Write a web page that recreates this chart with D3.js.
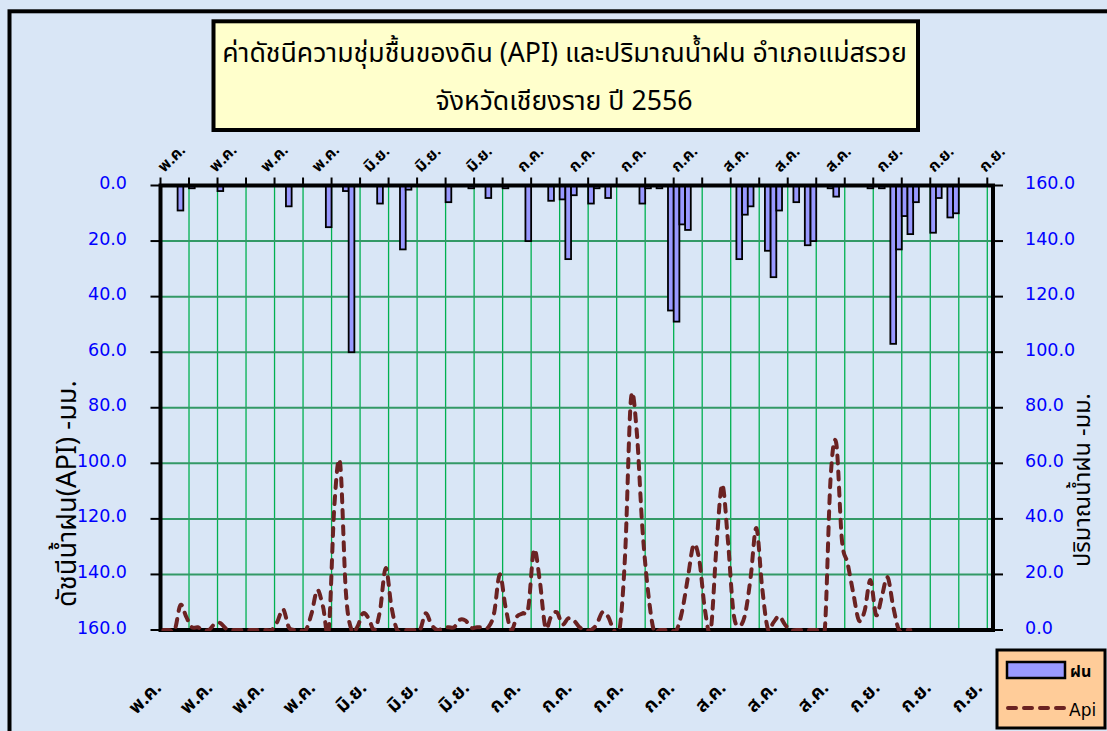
<!DOCTYPE html>
<html><head><meta charset="utf-8">
<script src="https://cdn.jsdelivr.net/npm/d3@7"></script>
<style>body{margin:0;background:#fff}svg{display:block}</style>
</head><body>
<svg id="c" width="1107" height="731"></svg>
<script>
// ---------- DATA ----------
const titleLines = ["ค่าดัชนีความชุ่มชื้นของดิน (API) และปริมาณน้ำฝน อำเภอแม่สรวย", "จังหวัดเชียงราย ปี 2556"];
const leftTitle = "ดัชนีน้ำฝน(API) -มม.";
const rightTitle = "ปริมาณน้ำฝน -มม.";
const tickLabels = ["พ.ค.","พ.ค.","พ.ค.","พ.ค.","มิ.ย.","มิ.ย.","มิ.ย.","ก.ค.","ก.ค.","ก.ค.","ก.ค.","ส.ค.","ส.ค.","ส.ค.","ก.ย.","ก.ย.","ก.ย."];
const valueTicks = [0,20,40,60,80,100,120,140,160];
const seriesNames = ["ฝน","Api"];
// daily rainfall (mm), 146 days from 1 May
const rain = [
 0,0,0,9,0,1,0,0,0,0,
 2,0,0,0,0,0,0,0,0,0,
 0,0,7.5,0,0,0,0,0,0,15,
 0,0,2,60,0,0,0,0,6.5,0,
 0,0,23,1.5,0,0,0,0,0,0,
 6,0,0,0,1,0,0,4.5,0,0,
 1,0,0,0,20,0,0,0,5.5,0,
 5,26.5,3.5,0,0,6.5,1,0,4.5,0,
 0,0,0,0,6.5,1,0,1,0,45,
 49,14,16,0,0,0,0,0,0,0,
 0,26.5,10.5,7.5,0,0,23.5,33,9,0,
 0,6,0,21.5,20,0,0,1,4,0,
 0,0,0,0,1,0,1,0,57,23,
 11,17.5,6,0,0,17,4.5,0,11.5,10,
 0,0,0,0,0,0
];
// API index
const api = [
 0,0,0,9,4.8,1,1,0,0,2.2,
 2.5,0.5,0,0,0,0,0,0,0,0,
 3,7.5,1,0,0,0,6,14.4,8.4,0,
 45,60,14,0,1,6,4.2,0,7,22.3,
 8.4,0,0,0,0,0,6,2,0,0.5,
 1,1,3.7,3.4,0.8,1,1,1,6,20,
 8.4,0,4.8,6,8,28.9,18,1,4.8,6.4,
 2,4.2,3.4,1,0,0,2,6.4,4.8,0,
 0,28,83,72,37,14,0,0,0,0,
 0,7,19,30.7,25,7,0,30,52.3,32.5,
 6,1.5,5.4,19,36.7,15.6,0.5,2.7,5,2,
 0,0,0,0,0,0,0,54,67.4,32.5,
 24,13.2,3.4,7,18,5.4,12,19,8.4,0,
 0,0,null,null,null,null,null,null,null,null,
 null,null,null,null,null,null
];

// ---------- LAYOUT ----------
const W = 1107, H = 731;
const M = {l:160.5, r:993, t:185.5, b:630};
const BG = "#D9E6F6";
const thai = "Tahoma, 'Noto Sans Thai', 'Noto Sans', 'DejaVu Sans', sans-serif";
const svg = d3.select("#c");

const days = d3.range(rain.length);
const x = d3.scaleBand().domain(days).range([M.l, M.r]).padding(0);
const bw = x.bandwidth();
const yRain = d3.scaleLinear().domain([0,160]).range([M.t, M.b]);
const yApi = d3.scaleLinear().domain([0,160]).range([M.b, M.t]);
const fmt = d3.format(".1f");

// background + frame
svg.append("rect").attr("width", W).attr("height", H).attr("fill", BG);
svg.append("rect").attr("x", 9.5).attr("y", 11.3).attr("width", 1200).attr("height", 800)
  .attr("fill", BG).attr("stroke", "#000").attr("stroke-width", 4);

// title box
svg.append("rect").attr("x", 213.5).attr("y", 21.3).attr("width", 704.5).attr("height", 108.7)
  .attr("fill", "#FFFFCC").attr("stroke", "#000").attr("stroke-width", 4);
function fitText(sel, target, base) {
  sel.attr("font-size", base);
  const len = sel.node().getComputedTextLength();
  if (len > 0) sel.attr("font-size", base * target / len);
}
const t1 = svg.append("text").attr("x", 564.5).attr("y", 62).attr("text-anchor", "middle")
  .attr("font-family", thai).attr("fill", "#000").text(titleLines[0]);
fitText(t1, 685, 24);
const t2 = svg.append("text").attr("x", 564).attr("y", 110).attr("text-anchor", "middle")
  .attr("font-family", thai).attr("fill", "#000").attr("font-size", t1.attr("font-size")).text(titleLines[1]);

// plot area
const plot = svg.append("g");
plot.append("rect").attr("x", M.l).attr("y", M.t).attr("width", M.r - M.l).attr("height", M.b - M.t).attr("fill", BG);

// vertical gridlines every 5 categories
const vTicks = days.filter(d => d % 5 === 0);
plot.selectAll("line.vg").data(vTicks.filter(d => d > 0)).join("line")
  .attr("x1", d => x(d)).attr("x2", d => x(d)).attr("y1", M.t).attr("y2", M.b)
  .attr("stroke", "#00B050").attr("stroke-width", 1.3);
// horizontal gridlines
plot.selectAll("line.hg").data(valueTicks.filter(v => v > 0 && v < 160)).join("line")
  .attr("x1", M.l).attr("x2", M.r).attr("y1", d => yRain(d)).attr("y2", d => yRain(d))
  .attr("stroke", "#339966").attr("stroke-width", 2);

// rain bars (hanging from top, reversed axis)
plot.selectAll("rect.bar").data(days.filter(d => rain[d] > 0)).join("rect")
  .attr("x", d => x(d)).attr("width", bw)
  .attr("y", yRain(0)).attr("height", d => yRain(rain[d]) - yRain(0))
  .attr("fill", "#9999FF").attr("stroke", "#000").attr("stroke-width", 1.8);

// border
plot.append("rect").attr("x", M.l).attr("y", M.t).attr("width", M.r - M.l).attr("height", M.b - M.t)
  .attr("fill", "none").attr("stroke", "#000").attr("stroke-width", 4);

// API line
svg.append("clipPath").attr("id", "clip").append("rect")
  .attr("x", M.l).attr("y", M.t).attr("width", M.r - M.l).attr("height", M.b - M.t + 1);
const line = d3.line()
  .defined(d => api[d] != null)
  .x(d => x(d) + bw / 2).y(d => yApi(api[d]))
  .curve(d3.curveCatmullRom.alpha(0));
svg.append("path").attr("clip-path", "url(#clip)").attr("d", line(days))
  .attr("fill", "none").attr("stroke", "#6B2222").attr("stroke-width", 4)
  .attr("stroke-dasharray", "8,8").attr("stroke-linecap", "round");

// axis ticks
const ax = svg.append("g").attr("stroke", "#000").attr("stroke-width", 2);
ax.selectAll("line.lt").data(valueTicks).join("line")
  .attr("x1", M.l - 10).attr("x2", M.l).attr("y1", d => yRain(d)).attr("y2", d => yRain(d));
ax.selectAll("line.rt").data(valueTicks).join("line")
  .attr("x1", M.r).attr("x2", M.r + 10).attr("y1", d => yApi(d)).attr("y2", d => yApi(d));
ax.selectAll("line.tt").data(vTicks).join("line")
  .attr("x1", d => x(d)).attr("x2", d => x(d)).attr("y1", M.t - 8).attr("y2", M.t);

// value labels
svg.selectAll("text.ll").data(valueTicks).join("text")
  .attr("x", 127).attr("y", d => yRain(d)).attr("dy", "0.2em").attr("text-anchor", "end")
  .attr("font-family", "'DejaVu Sans', Tahoma, sans-serif").attr("font-size", 17.5).attr("fill", "#0000FF")
  .text(d => fmt(d));
svg.selectAll("text.rl").data(valueTicks).join("text")
  .attr("x", 1025).attr("y", d => yApi(d)).attr("dy", "0.2em").attr("text-anchor", "start")
  .attr("font-family", "'DejaVu Sans', Tahoma, sans-serif").attr("font-size", 17.5).attr("fill", "#0000FF")
  .text(d => fmt(d));

// category labels
const labelCats = tickLabels.map((t, i) => ({t, d: i * 9}));
svg.selectAll("text.tl").data(labelCats).join("text")
  .attr("transform", d => `translate(${x(d.d) + bw / 2 + 1},173) rotate(-45)`)
  .attr("font-family", thai).attr("font-size", 16).attr("font-weight", "bold").attr("fill", "#000")
  .text(d => d.t);
svg.selectAll("text.bl").data(labelCats).join("text")
  .attr("transform", d => `translate(${x(d.d) + bw / 2 - 1},689) rotate(-45)`)
  .attr("text-anchor", "end")
  .attr("font-family", thai).attr("font-size", 19).attr("font-weight", "bold").attr("fill", "#000")
  .text(d => d.t);

// axis titles
const lt = svg.append("text").attr("transform", "translate(66,493.5) rotate(-90)")
  .attr("text-anchor", "middle").attr("dy", "0.35em").attr("font-family", thai).attr("fill", "#000").text(leftTitle);
fitText(lt, 227, 20);
const rt = svg.append("text").attr("transform", "translate(1082,480) rotate(-90)")
  .attr("text-anchor", "middle").attr("dy", "0.35em").attr("font-family", thai).attr("fill", "#000").text(rightTitle);
fitText(rt, 174, 20);

// legend
const lg = svg.append("g");
lg.append("rect").attr("x", 997).attr("y", 650).attr("width", 108).attr("height", 78)
  .attr("fill", "#FFCC99").attr("stroke", "#000").attr("stroke-width", 3);
lg.append("rect").attr("x", 1007).attr("y", 662).attr("width", 58).attr("height", 16)
  .attr("fill", "#9999FF").attr("stroke", "#000").attr("stroke-width", 2.5);
lg.append("text").attr("x", 1070).attr("y", 677).attr("font-family", thai).attr("font-size", 16)
  .attr("font-weight", "bold").text(seriesNames[0]);
lg.append("line").attr("x1", 1008).attr("x2", 1066).attr("y1", 708).attr("y2", 708)
  .attr("stroke", "#6B2222").attr("stroke-width", 4).attr("stroke-dasharray", "8,8").attr("stroke-linecap", "round");
lg.append("text").attr("x", 1069).attr("y", 716).attr("font-family", "'DejaVu Sans', Tahoma, sans-serif")
  .attr("font-size", 17).text(seriesNames[1]);
</script>
</body></html>
